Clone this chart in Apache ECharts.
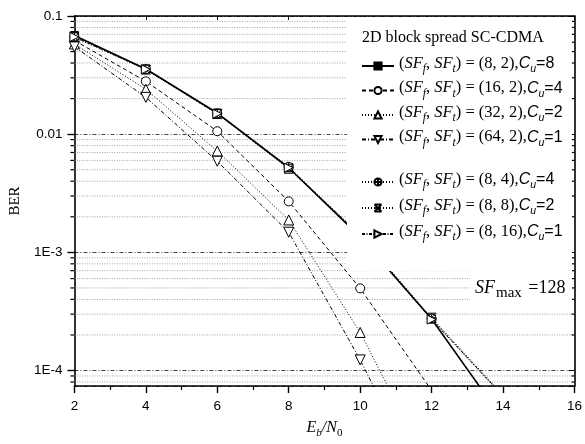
<!DOCTYPE html>
<html>
<head>
<meta charset="utf-8">
<script src="https://cdn.jsdelivr.net/npm/echarts@6/dist/echarts.min.js"></script>
<style>
  html, body { margin: 0; padding: 0; background: #fff; }
  #chart { width: 585px; height: 444px; }
</style>
</head>
<body>
<div id="chart"></div>
<script>
// Eb/N0 points (dB)
const ebn0 = [2, 4, 6, 8, 10, 12, 14];

// BER curves, one array per (SFf, SFt) configuration
const berSf8x2   = [0.0683, 0.0356, 0.0151, 0.0052, 0.00135, 2.73e-4, 3.85e-5];
const berSf16x2  = [0.062, 0.028, 0.0106, 0.0027, 4.96e-4, 6.8e-5];
const berSf32x2  = [0.058, 0.024, 0.0072, 0.00188, 2.1e-4, 1.4e-5];
const berSf64x2  = [0.055, 0.0205, 0.0059, 0.00148, 1.23e-4, 7.8e-6];
const berSf8x4   = [0.0670, 0.0355, 0.0150, 0.0053, 0.0014, 2.75e-4, 6.0e-5];
const berSf8x8   = [0.0660, 0.0352, 0.0148, 0.0051, 0.0014, 2.8e-4, 6.2e-5];
const berSf8x16  = [0.0665, 0.0354, 0.0149, 0.0052, 0.0014, 2.7e-4, 6.1e-5];

// legend texts: [SFf, SFt, Cu]
const cfgSf8x2  = ['8', '2', '8'];
const cfgSf16x2 = ['16', '2', '4'];
const cfgSf32x2 = ['32', '2', '2'];
const cfgSf64x2 = ['64', '2', '1'];
const cfgSf8x4  = ['8', '4', '4'];
const cfgSf8x8  = ['8', '8', '2'];
const cfgSf8x16 = ['8', '16', '1'];

// axis ranges and tick labels
const xMin = 2, xMax = 16, xStep = 2;
const yMin = 7.4e-5, yMax = 0.1;
const decadeLabels = { '-1': '0.1', '-2': '0.01', '-3': '1E-3', '-4': '1E-4' };
const minorLevels = [8e-5, 9e-5,
  2e-4, 3e-4, 4e-4, 5e-4, 6e-4, 7e-4, 8e-4, 9e-4,
  2e-3, 3e-3, 4e-3, 5e-3, 6e-3, 7e-3, 8e-3, 9e-3,
  2e-2, 3e-2, 4e-2, 5e-2, 6e-2, 7e-2, 8e-2, 9e-2];

const pts = arr => arr.map((v, i) => [ebn0[i], v]);

const SERIF = 'Liberation Serif';
const SANS = 'Liberation Sans';

function legendText(c) {
  return '{r|(}{i|SF}{s|f}{r|, }{i|SF}{s|t}{r|) = (' + c[0] + ', ' + c[1] + '),}{c|C}{cs|u}{a|=' + c[2] + '}';
}
const legendRich = {
  r:  { fontFamily: SERIF, fontSize: 16.5, color: '#000', lineHeight: 18, padding: [0, 0, 3, 0], verticalAlign: 'bottom' },
  i:  { fontFamily: SERIF, fontSize: 16.5, color: '#000', fontStyle: 'italic', lineHeight: 18, padding: [0, 0, 3, 0], verticalAlign: 'bottom' },
  s:  { fontFamily: SERIF, fontSize: 11.5, color: '#000', fontStyle: 'italic', lineHeight: 13, verticalAlign: 'bottom' },
  c:  { fontFamily: SANS, fontSize: 16, color: '#000', fontStyle: 'italic', lineHeight: 18, padding: [0, 0, 3, 0], verticalAlign: 'bottom' },
  cs: { fontFamily: SANS, fontSize: 10.5, color: '#000', fontStyle: 'italic', lineHeight: 12, verticalAlign: 'bottom' },
  a:  { fontFamily: SANS, fontSize: 16, color: '#000', lineHeight: 18, padding: [0, 0, 3, 0], verticalAlign: 'bottom' }
};

const legendNames = {
  s1: legendText(cfgSf8x2), s2: legendText(cfgSf16x2), s3: legendText(cfgSf32x2), s4: legendText(cfgSf64x2),
  s5: legendText(cfgSf8x4), s6: legendText(cfgSf8x8), s7: legendText(cfgSf8x16)
};

// marker shapes
const SYM_DOWN = 'path://M0,0 L10,0 L5,9 Z';
const SYM_RIGHT = 'path://M0,0 L9,5 L0,10 Z';
const SYM_OPLUS = 'path://M5,0 A5,5 0 1,1 4.99,0 Z M5,0 L5,10 M0,5 L10,5';
const SYM_XBAR = 'path://M0,0 L10,10 M10,0 L0,10 M1,5 L9,5 M0,0 L10,0 M0,10 L10,10';

function lineSeries(name, data, dash, width, symbol, size, filled) {
  return {
    name: name,
    type: 'line',
    data: pts(data),
    symbol: symbol,
    symbolSize: size,
    z: 3,
    lineStyle: { color: '#000', width: width, type: dash },
    itemStyle: { color: filled ? '#000' : '#fff', borderColor: '#000', borderWidth: 1 },
    emphasis: { disabled: true },
    animation: false
  };
}

// horizontal minor grid lines and the 2..9 minor ticks on both y axes
const minorGrid = {
  type: 'custom',
  data: minorLevels.map(v => [xMin, v]),
  z: 1,
  silent: true,
  animation: false,
  renderItem: function (params, api) {
    const v = api.value(1);
    const p0 = api.coord([xMin, v]);
    const p1 = api.coord([xMax, v]);
    return {
      type: 'group',
      children: [
        { type: 'line', shape: { x1: p0[0], y1: p0[1], x2: p1[0], y2: p1[1] },
          style: { stroke: '#a0a0a0', lineWidth: 1, lineDash: [1, 1.5] } },
        { type: 'line', shape: { x1: p0[0] - 4, y1: p0[1], x2: p0[0], y2: p0[1] },
          style: { stroke: '#000', lineWidth: 1.2 } },
        { type: 'line', shape: { x1: p1[0] - 3, y1: p1[1], x2: p1[0], y2: p1[1] },
          style: { stroke: '#000', lineWidth: 1.2 } }
      ]
    };
  }
};

const axisLineStyle = { color: '#000', width: 1.6 };

const legendBase = {
  orient: 'vertical',
  left: 361,
  padding: 0,
  itemWidth: 32, itemHeight: 9,
  selectedMode: false,
  z: 20,
  formatter: n => legendNames[n],
  textStyle: { fontFamily: SERIF, rich: legendRich }
};

const option = {
  backgroundColor: '#fff',
  animation: false,
  grid: { left: 71, right: 8, top: 16, bottom: 51 },
  xAxis: [{
    type: 'value', min: xMin, max: xMax, interval: xStep,
    position: 'bottom',
    axisLine: { lineStyle: axisLineStyle },
    axisTick: { length: 7, lineStyle: { color: '#000', width: 1.4 } },
    minorTick: { show: true, splitNumber: 2, length: 4, lineStyle: { color: '#000', width: 1.2 } },
    axisLabel: { fontFamily: SANS, fontSize: 13.5, color: '#000', margin: 13 },
    splitLine: { show: false },
    name: '{i|E}{s|b}{i|/N}{z|0}',
    nameLocation: 'middle',
    nameGap: 35,
    nameTextStyle: {
      rich: {
        i: { fontFamily: SERIF, fontSize: 16, fontStyle: 'italic', color: '#000', lineHeight: 18, padding: [0, 0, 3, 0], verticalAlign: 'bottom' },
        s: { fontFamily: SERIF, fontSize: 11, fontStyle: 'italic', color: '#000', lineHeight: 12, verticalAlign: 'bottom' },
        z: { fontFamily: SERIF, fontSize: 11, color: '#000', lineHeight: 12, verticalAlign: 'bottom' }
      }
    }
  }, {
    type: 'value', min: xMin, max: xMax, interval: xStep,
    position: 'top',
    axisLine: { lineStyle: axisLineStyle },
    axisTick: { inside: true, length: 4, lineStyle: { color: '#000' } },
    axisLabel: { show: false },
    splitLine: { show: false }
  }],
  yAxis: [{
    type: 'log', logBase: 10, min: yMin, max: yMax,
    position: 'left',
    axisLine: { show: true, lineStyle: axisLineStyle },
    axisTick: { show: true, length: 7, lineStyle: { color: '#000', width: 1.4 } },
    axisLabel: {
      fontFamily: SANS, fontSize: 13.5, color: '#000', margin: 12,
      showMinLabel: false,
      formatter: function (v) {
        const k = Math.round(Math.log10(v));
        return decadeLabels[String(k)] || '';
      }
    },
    splitLine: { show: true, lineStyle: { color: '#444', width: 1, type: [4, 2, 1, 2] } },
    name: 'BER',
    nameLocation: 'middle',
    nameRotate: 90,
    nameGap: 41,
    nameTextStyle: { fontFamily: SERIF, fontSize: 15, color: '#000' }
  }, {
    type: 'log', logBase: 10, min: yMin, max: yMax,
    position: 'right',
    axisLine: { show: true, lineStyle: axisLineStyle },
    axisTick: { show: true, inside: true, length: 6, lineStyle: { color: '#000' } },
    axisLabel: { show: false },
    splitLine: { show: false }
  }],
  legend: [
    Object.assign({}, legendBase, { data: ['s1', 's2', 's3', 's4'], top: 55, itemGap: 4.5 }),
    Object.assign({}, legendBase, { data: ['s5', 's6', 's7'], top: 171, itemGap: 6 })
  ],
  graphic: [
    { type: 'rect', z: 10, shape: { x: 347, y: 17, width: 225, height: 254 }, style: { fill: '#fff' } },
    { type: 'rect', z: 10, shape: { x: 470, y: 271, width: 102, height: 41 }, style: { fill: '#fff' } },
    { type: 'text', z: 20, left: 362, top: 30,
      style: { text: '2D block spread SC-CDMA', fontFamily: SERIF, fontSize: 16, fill: '#000' } },
    { type: 'text', z: 20, left: 475, top: 279,
      style: {
        text: '{i|SF}{m|max}{r| =128}',
        rich: {
          i: { fontFamily: SERIF, fontSize: 18, fontStyle: 'italic', fill: '#000', lineHeight: 20, padding: [0, 0, 4, 0], verticalAlign: 'bottom' },
          m: { fontFamily: SERIF, fontSize: 15, fill: '#000', lineHeight: 17, padding: [0, 2, 0, 1], verticalAlign: 'bottom' },
          r: { fontFamily: SERIF, fontSize: 18, fill: '#000', lineHeight: 20, padding: [0, 0, 4, 0], verticalAlign: 'bottom' }
        }
      } }
  ],
  series: [
    minorGrid,
    lineSeries('s1', berSf8x2, 'solid', 1.6, 'rect', 8, true),
    lineSeries('s2', berSf16x2, [4, 3], 1, 'circle', 9, false),
    lineSeries('s3', berSf32x2, [1, 2], 1, 'triangle', 10, false),
    lineSeries('s4', berSf64x2, [4, 2, 1, 2], 1, SYM_DOWN, 10, false),
    lineSeries('s5', berSf8x4, [1, 2], 1, SYM_OPLUS, 9, false),
    lineSeries('s6', berSf8x8, [1, 2], 1, SYM_XBAR, 9, false),
    lineSeries('s7', berSf8x16, [3, 1.5, 1, 1.5], 1, SYM_RIGHT, 9, false)
  ]
};

const chart = echarts.init(document.getElementById('chart'), null, { renderer: 'canvas' });
chart.setOption(option);
</script>
</body>
</html>
